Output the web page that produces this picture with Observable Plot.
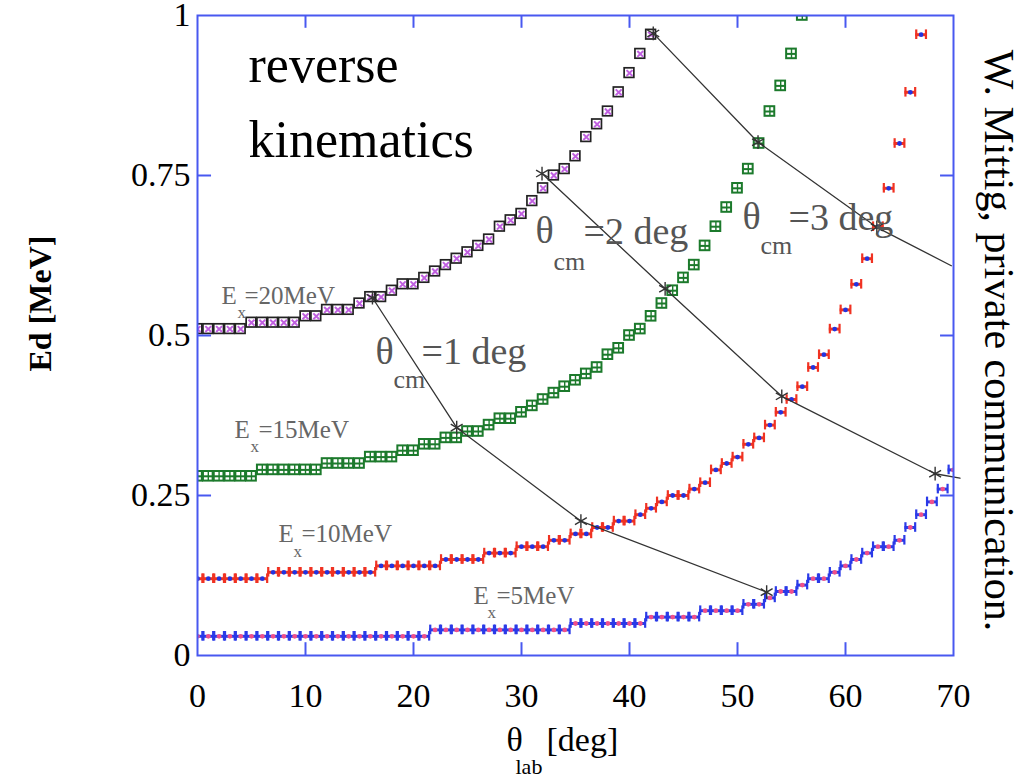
<!DOCTYPE html>
<html><head><meta charset="utf-8">
<script src="https://cdn.jsdelivr.net/npm/d3@7"></script>
<script src="https://cdn.jsdelivr.net/npm/@observablehq/plot@0.6"></script>
<style>body{margin:0;background:#fff}</style>
</head><body><div id="chart"></div>
<script>
// lab angles (deg) of the sampled points
const thetaLab = [0,1,2,3,4,5,6,7,8,9,10,11,12,13,14,15,16,17,18,19,20,21,22,23,24,25,26,27,28,29,30,31,32,33,34,35,36,37,38,39,40,41,42,43,44,45,46,47,48,49,50,51,52,53,54,55,56,57,58,59,60,61,62,63,64,65,66,67,68,69,70];
// Ed [MeV] for each excitation energy
const ed5 = [0.03,0.03,0.03,0.03,0.03,0.03,0.03,0.03,0.03,0.03,0.03,0.03,0.03,0.03,0.03,0.03,0.03,0.03,0.03,0.03,0.03,0.03,
  0.04,0.04,0.04,0.04,0.04,0.04,0.04,0.04,0.04,0.04,0.04,0.04,0.04,
  0.05,0.05,0.05,0.05,0.05,0.05,0.05,
  0.06,0.06,0.06,0.06,0.06,
  0.07,0.07,0.07,0.07,
  0.08,0.08,
  0.09,0.10,0.10,0.11,0.12,0.12,0.13,0.14,0.15,0.16,0.17,0.17,0.18,0.20,0.22,0.24,0.26,0.29];
const ed10 = [0.12,0.12,0.12,0.12,0.12,0.12,0.12,
  0.13,0.13,0.13,0.13,0.13,0.13,0.13,0.13,0.13,0.13,
  0.14,0.14,0.14,0.14,0.14,0.14,
  0.15,0.15,0.15,0.15,
  0.16,0.16,0.16,
  0.17,0.17,0.17,
  0.18,0.18,0.19,0.19,0.20,0.20,0.21,0.21,
  0.22,0.23,0.24,0.25,0.25,0.26,0.27,0.29,0.30,0.31,0.33,0.34,0.36,0.38,0.40,0.42,0.45,0.47,0.51,0.54,0.58,0.62,0.67,0.73,0.80,0.88,0.97];
const ed15 = [0.28,0.28,0.28,0.28,0.28,0.28,
  0.29,0.29,0.29,0.29,0.29,0.29,
  0.30,0.30,0.30,0.30,
  0.31,0.31,0.31,
  0.32,0.32,0.33,0.33,0.34,0.34,0.35,0.35,0.36,0.37,0.37,
  0.38,0.39,0.40,0.41,0.42,0.43,0.44,0.45,0.47,0.48,0.50,0.51,0.53,0.55,0.57,0.59,0.61,0.64,0.67,0.70,0.73,0.76,0.80,0.85,0.89,0.94,1.00];
const ed20 = [0.51,0.51,0.51,0.51,0.51,
  0.52,0.52,0.52,0.52,0.52,
  0.53,0.53,
  0.54,0.54,0.54,
  0.55,0.56,0.56,0.57,0.58,0.58,
  0.59,0.60,0.61,0.62,0.63,0.64,0.65,0.67,0.68,0.69,0.71,0.73,0.75,0.76,0.78,0.81,0.83,0.85,0.88,0.91,0.94,0.97];
// constant theta_cm lines
const cm1Theta = [16.2, 24.0, 35.5, 52.7];
const cm1Ed    = [0.559, 0.356, 0.210, 0.099];
const cm2Theta = [31.9, 43.3, 54.1, 68.3, 70.6];
const cm2Ed    = [0.753, 0.573, 0.405, 0.284, 0.277];
const cm3Theta = [42.2, 51.9, 62.9, 69.8];
const cm3Ed    = [0.972, 0.802, 0.669, 0.609];
const cm1Stars = 4, cm2Stars = 4, cm3Stars = 3;
// axes
const xTicks = [0,10,20,30,40,50,60,70];
const xInnerTicks = [10,20,30,40,50,60];
const yTicks = [0,0.25,0.5,0.75,1];
const yInnerTicks = [0.25,0.5,0.75];

const FONT = "Liberation Serif, 'Times New Roman', serif";
const BLUE = "rgb(72,88,240)";
const ML = 197, MR = 71, MT = 15, MB = 126;

const series = (ed) => ed.map((e, i) => ({theta: thetaLab[i], ed: e}));
const s5 = series(ed5), s10 = series(ed10), s15 = series(ed15), s20 = series(ed20);
const line = (th, ed) => th.map((t, i) => ({theta: t, ed: ed[i]}));
const l1 = line(cm1Theta, cm1Ed), l2 = line(cm2Theta, cm2Ed), l3 = line(cm3Theta, cm3Ed);

const hw = 0.45, hh = 0.0075, th = 0.0075;

function stepMarks(data, color, inner) {
  return [
    Plot.ruleY(data, {y: "ed", x1: d => d.theta - 0.5, x2: d => d.theta + 0.5, stroke: color, strokeWidth: 3, clip: true}),
    Plot.ruleX(data, {x: d => d.theta - hw, y1: d => d.ed - th, y2: d => d.ed + th, stroke: color, strokeWidth: 2.2, clip: true}),
    Plot.ruleX(data, {x: d => d.theta + hw, y1: d => d.ed - th, y2: d => d.ed + th, stroke: color, strokeWidth: 2.2, clip: true}),
    Plot.dot(data, {x: "theta", y: "ed", r: 2.4, fill: inner, stroke: "none", clip: true})
  ];
}

function ann(t, px, py, o = {}) {
  return Plot.text([t], {text: d => d, frameAnchor: "top-left", dx: px - ML, dy: py - MT,
    textAnchor: "start", lineAnchor: "middle", fontFamily: FONT, ...o});
}
const G1 = "#666", G2 = "#555";

const plot = Plot.plot({
  width: 1024, height: 781,
  marginLeft: ML, marginRight: MR, marginTop: MT, marginBottom: MB,
  x: {domain: [0, 70]},
  y: {domain: [0, 1]},
  style: {fontFamily: FONT, background: "white", color: "black", overflow: "visible"},
  marks: [
    Plot.axisX({ticks: xTicks, tickSize: 0, tickPadding: 27, fontSize: 34, tickFormat: d => String(d), label: null}),
    Plot.axisY({ticks: yTicks, tickSize: 0, tickPadding: 7, fontSize: 34, tickFormat: d => String(d), label: null}),
    // Ex = 20 MeV: boxes
    Plot.rect(s20, {x1: d => d.theta - hw, x2: d => d.theta + hw, y1: d => d.ed - hh, y2: d => d.ed + hh,
      stroke: "#222", strokeWidth: 1.7, fill: "white", clip: true}),
    Plot.dot(s20, {x: "theta", y: "ed", symbol: "times", r: 2.8, stroke: "#c060e0", strokeWidth: 2, clip: true}),
    // Ex = 15 MeV
    Plot.rect(s15, {x1: d => d.theta - hw, x2: d => d.theta + hw, y1: d => d.ed - hh, y2: d => d.ed + hh,
      stroke: "#1c7a2c", strokeWidth: 2, fill: "white", clip: true}),
    Plot.ruleY(s15, {y: "ed", x1: d => d.theta - hw, x2: d => d.theta + hw, stroke: "#1c7a2c", strokeWidth: 2, clip: true}),
    Plot.ruleX(s15, {x: "theta", y1: d => d.ed - hh, y2: d => d.ed + hh, stroke: "#1c7a2c", strokeWidth: 1.4, clip: true}),
    // Ex = 10 MeV
    ...stepMarks(s10, "#f03222", "#2233e0"),
    // Ex = 5 MeV
    ...stepMarks(s5, "#2a3ae8", "#f0508a"),
    // theta_cm lines
    Plot.line(l1, {x: "theta", y: "ed", stroke: "#333", strokeWidth: 1.3}),
    Plot.line(l2, {x: "theta", y: "ed", stroke: "#333", strokeWidth: 1.3}),
    Plot.line(l3, {x: "theta", y: "ed", stroke: "#333", strokeWidth: 1.3}),
    Plot.dot(l1.slice(0, cm1Stars), {x: "theta", y: "ed", symbol: "asterisk", r: 6.5, stroke: "#333", strokeWidth: 1.4}),
    Plot.dot(l2.slice(0, cm2Stars), {x: "theta", y: "ed", symbol: "asterisk", r: 6.5, stroke: "#333", strokeWidth: 1.4}),
    Plot.dot(l3.slice(0, cm3Stars), {x: "theta", y: "ed", symbol: "asterisk", r: 6.5, stroke: "#333", strokeWidth: 1.4}),
    // frame and inward ticks
    Plot.frame({stroke: BLUE, strokeWidth: 2}),
    Plot.ruleX(xInnerTicks, {x: d => d, y1: 0, y2: 0.02, stroke: BLUE, strokeWidth: 2}),
    Plot.ruleX(xInnerTicks, {x: d => d, y1: 1, y2: 0.98, stroke: BLUE, strokeWidth: 2}),
    Plot.ruleY(yInnerTicks, {y: d => d, x1: 0, x2: 1.3, stroke: BLUE, strokeWidth: 2}),
    Plot.ruleY(yInnerTicks, {y: d => d, x1: 70, x2: 68.8, stroke: BLUE, strokeWidth: 2}),
    // annotations
    ann("reverse", 248, 65, {fontSize: 52}),
    ann("kinematics", 248, 140, {fontSize: 52}),
    ann("E", 221, 295, {fontSize: 25, fill: G1}), ann("x", 237, 312, {fontSize: 17, fill: G1}), ann("=20MeV", 244, 295, {fontSize: 25, fill: G1}),
    ann("E", 234, 429, {fontSize: 25, fill: G1}), ann("x", 250, 446, {fontSize: 17, fill: G1}), ann("=15MeV", 258, 429, {fontSize: 25, fill: G1}),
    ann("E", 278, 533, {fontSize: 25, fill: G1}), ann("x", 293, 551, {fontSize: 17, fill: G1}), ann("=10MeV", 301, 533, {fontSize: 25, fill: G1}),
    ann("E", 473, 595, {fontSize: 25, fill: G1}), ann("x", 487, 612, {fontSize: 17, fill: G1}), ann("=5MeV", 496, 595, {fontSize: 25, fill: G1}),
    ann("θ", 375, 351, {fontSize: 38, fill: G2}), ann("cm", 393, 379, {fontSize: 26, fill: G2}), ann("=1 deg", 421, 351, {fontSize: 38, fill: G2}),
    ann("θ", 535, 230, {fontSize: 38, fill: G2}), ann("cm", 553, 261, {fontSize: 26, fill: G2}), ann("=2 deg", 583, 231, {fontSize: 38, fill: G2}),
    ann("θ", 742, 216, {fontSize: 38, fill: G2}), ann("cm", 760, 245, {fontSize: 26, fill: G2}), ann("=3 deg", 788, 217, {fontSize: 38, fill: G2}),
    // axis titles
    ann("θ", 506, 740, {fontSize: 34}), ann("lab", 515, 766, {fontSize: 22}), ann("[deg]", 546, 740, {fontSize: 34}),
    Plot.text(["Ed [MeV]"], {text: d => d, frameAnchor: "left", dx: 40 - ML, dy: 303 - 335, rotate: -90,
      fontSize: 32, fontWeight: "bold", fontFamily: FONT, textAnchor: "middle", lineAnchor: "middle"}),
    Plot.text(["W. Mittig, private communication."], {text: d => d, frameAnchor: "right", dx: 998 - (1024 - MR), dy: 340 - 335, rotate: 90,
      fontSize: 42, fontFamily: FONT, textAnchor: "middle", lineAnchor: "middle"})
  ]
});
document.getElementById("chart").appendChild(plot);
</script>
</body></html>
